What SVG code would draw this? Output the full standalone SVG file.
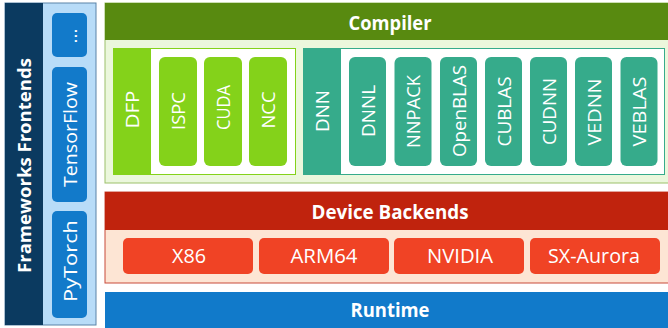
<svg xmlns="http://www.w3.org/2000/svg" width="668" height="328" viewBox="0 0 668 328">
<style>
text{font-family:"Open Sans","Noto Sans","Liberation Sans",sans-serif;fill:#fff}
.h{font-weight:bold;font-size:19px;text-anchor:middle}
.v{font-size:18px;text-anchor:middle;dominant-baseline:central}
.b{font-size:19px;text-anchor:middle;dominant-baseline:central}
.d{font-size:20px;text-anchor:middle}
.dfp{fill:#84d21a}
.dnn{fill:#36ab8b}
.fw{fill:#127aca}
.dev{fill:#f04325}
</style>
<rect width="668" height="328" fill="#fff"/>
<g id="frontends">
<rect x="5" y="3" width="91" height="322" fill="#b8dcf8" stroke="#5a83a8" stroke-width="1"/>
<rect x="5" y="3" width="38" height="322" fill="#0b3a60"/>
<text font-weight="bold" font-size="18.5" text-anchor="middle" textLength="215" lengthAdjust="spacingAndGlyphs" transform="translate(31,165.5) rotate(-90)">Frameworks Frontends</text>
<g id="fw-more"><rect class="fw" x="52" y="13" width="35" height="44" rx="5"/><text class="b" transform="translate(69.5,36) rotate(-90)">...</text></g>
<g id="fw-tensorflow"><rect class="fw" x="52" y="67" width="35" height="135" rx="5"/><text class="b" textLength="105" lengthAdjust="spacingAndGlyphs" transform="translate(69.5,134.5) rotate(-90)">TensorFlow</text></g>
<g id="fw-pytorch"><rect class="fw" x="52" y="211" width="35" height="107" rx="5"/><text class="b" textLength="82" lengthAdjust="spacingAndGlyphs" transform="translate(69.5,261) rotate(-90)">PyTorch</text></g>
</g>
<g id="compiler">
<rect x="105" y="3" width="564" height="180" fill="#ebf7dc" stroke="#9cc06b" stroke-width="1"/>
<rect x="105" y="3" width="564" height="37" fill="#588a10"/>
<text class="h" x="390" y="30" textLength="83" lengthAdjust="spacingAndGlyphs">Compiler</text>
<g id="dfp">
<rect x="113.5" y="48.5" width="182" height="126" fill="#fff" stroke="#84d21a" stroke-width="1"/>
<rect class="dfp" x="113" y="48" width="38" height="127"/>
<text class="v" textLength="38" lengthAdjust="spacingAndGlyphs" transform="translate(132,109.5) rotate(-90)">DFP</text>
<g id="ispc"><rect class="dfp" x="159" y="57" width="38" height="109" rx="6"/><text class="v" textLength="38" lengthAdjust="spacingAndGlyphs" transform="translate(178,111) rotate(-90)">ISPC</text></g>
<g id="cuda"><rect class="dfp" x="204" y="57" width="38" height="109" rx="6"/><text class="v" textLength="45" lengthAdjust="spacingAndGlyphs" transform="translate(223,107.5) rotate(-90)">CUDA</text></g>
<g id="ncc"><rect class="dfp" x="249" y="57" width="38" height="109" rx="6"/><text class="v" textLength="37" lengthAdjust="spacingAndGlyphs" transform="translate(268,110) rotate(-90)">NCC</text></g>
</g>
<g id="dnn">
<rect x="303.5" y="48.5" width="361" height="126" fill="#fff" stroke="#36ab8b" stroke-width="1"/>
<rect class="dnn" x="303" y="48" width="38" height="127"/>
<text class="v" textLength="42" lengthAdjust="spacingAndGlyphs" transform="translate(322,111) rotate(-90)">DNN</text>
<g id="dnnl"><rect class="dnn" x="349" y="57" width="37" height="109" rx="6"/><text class="v" textLength="52" lengthAdjust="spacingAndGlyphs" transform="translate(367.5,111) rotate(-90)">DNNL</text></g>
<g id="nnpack"><rect class="dnn" x="394.5" y="57" width="37" height="109" rx="6"/><text class="v" textLength="73" lengthAdjust="spacingAndGlyphs" transform="translate(413,111.5) rotate(-90)">NNPACK</text></g>
<g id="openblas"><rect class="dnn" x="440" y="57" width="37" height="109" rx="6"/><text class="v" textLength="92" lengthAdjust="spacingAndGlyphs" transform="translate(458.5,111) rotate(-90)">OpenBLAS</text></g>
<g id="cublas"><rect class="dnn" x="485" y="57" width="37" height="109" rx="6"/><text class="v" textLength="70" lengthAdjust="spacingAndGlyphs" transform="translate(503.5,111.5) rotate(-90)">CUBLAS</text></g>
<g id="cudnn"><rect class="dnn" x="530" y="57" width="37" height="109" rx="6"/><text class="v" textLength="67" lengthAdjust="spacingAndGlyphs" transform="translate(548.5,111.5) rotate(-90)">CUDNN</text></g>
<g id="vednn"><rect class="dnn" x="575" y="57" width="37" height="109" rx="6"/><text class="v" textLength="67" lengthAdjust="spacingAndGlyphs" transform="translate(593.5,112) rotate(-90)">VEDNN</text></g>
<g id="veblas"><rect class="dnn" x="620.5" y="57" width="37" height="109" rx="6"/><text class="v" textLength="70" lengthAdjust="spacingAndGlyphs" transform="translate(639,111.5) rotate(-90)">VEBLAS</text></g>
</g>
</g>
<g id="device-backends">
<rect x="105" y="192" width="564" height="91" fill="#fde5d4" stroke="#c84a3a" stroke-width="1"/>
<rect x="105" y="192" width="564" height="38" fill="#c0230d"/>
<text class="h" x="390" y="219" textLength="157" lengthAdjust="spacingAndGlyphs">Device Backends</text>
<g id="x86"><rect class="dev" x="123" y="238" width="130" height="36" rx="5"/><text class="d" x="189" y="263" textLength="34" lengthAdjust="spacingAndGlyphs">X86</text></g>
<g id="arm64"><rect class="dev" x="259" y="238" width="130" height="36" rx="5"/><text class="d" x="324" y="263" textLength="67" lengthAdjust="spacingAndGlyphs">ARM64</text></g>
<g id="nvidia"><rect class="dev" x="394" y="238" width="130" height="36" rx="5"/><text class="d" x="460" y="263" textLength="66" lengthAdjust="spacingAndGlyphs">NVIDIA</text></g>
<g id="sx-aurora"><rect class="dev" x="530" y="238" width="130" height="36" rx="5"/><text class="d" x="594" y="263" textLength="92" lengthAdjust="spacingAndGlyphs">SX-Aurora</text></g>
</g>
<g id="runtime">
<rect x="105" y="292" width="564" height="37" fill="#117aca"/>
<text class="h" x="390" y="317" textLength="79" lengthAdjust="spacingAndGlyphs">Runtime</text>
</g>
<g id="connectors"/>
</svg>
